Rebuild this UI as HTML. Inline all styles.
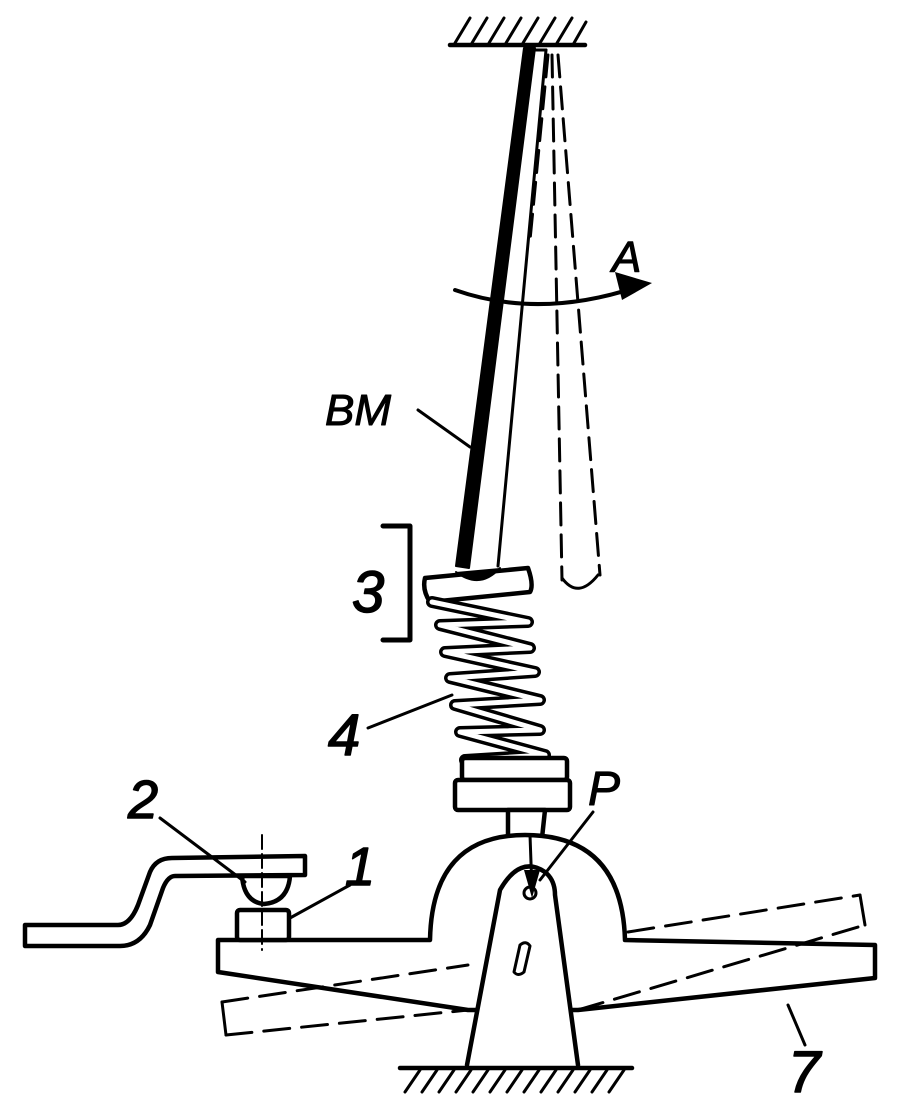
<!DOCTYPE html>
<html><head><meta charset="utf-8"><style>html,body{margin:0;padding:0;background:#fff}svg{display:block}text{font-family:"Liberation Sans",sans-serif;font-style:italic;fill:#000}</style></head><body>
<svg width="903" height="1110" viewBox="0 0 903 1110" xmlns="http://www.w3.org/2000/svg" fill="none" stroke="#000" stroke-width="4.5" stroke-linecap="round" stroke-linejoin="round">
<!-- ceiling -->
<line x1="450" y1="45" x2="585" y2="45"/>
<g stroke-width="3">
<line x1="455" y1="43" x2="470" y2="18"/><line x1="472" y1="43" x2="487" y2="18"/><line x1="489" y1="43" x2="504" y2="18"/><line x1="506" y1="43" x2="521" y2="18"/><line x1="523" y1="43" x2="538" y2="18"/><line x1="540" y1="43" x2="555" y2="18"/><line x1="557" y1="43" x2="572" y2="18"/><line x1="574" y1="43" x2="586" y2="22"/>
</g>
<!-- rod -->
<polygon points="524,48 535,48 469,568 456,566" fill="#000" stroke-width="2"/>
<line x1="546" y1="50" x2="498" y2="566" stroke-width="3"/>
<line x1="534" y1="50" x2="546" y2="50" stroke-width="3"/>
<!-- dashed rod -->
<g stroke-width="3" stroke-dasharray="22,10">
<line x1="552" y1="55" x2="562" y2="580"/><line x1="558" y1="55" x2="600" y2="575"/><line x1="548" y1="55" x2="530" y2="240"/>
</g>
<path d="M562 578 Q578 600 598 575" stroke-width="3"/>
<!-- arrow A -->
<path d="M455 290 Q540 320 640 286" stroke-width="4"/>
<polygon points="652,283 615,272 622,300" fill="#000" stroke="none"/>
<text x="612" y="272" font-size="44" stroke="#000" stroke-width="1">A</text>
<!-- BM -->
<text x="325" y="425" font-size="44" stroke="#000" stroke-width="1">BM</text>
<line x1="418" y1="410" x2="470" y2="447" stroke-width="3"/>
<!-- bracket 3 -->
<polyline points="383,526 410,526 410,640 383,640" stroke-width="5"/>
<text x="352" y="612" font-size="58" stroke="#000" stroke-width="1.5">3</text>
<!-- top plate -->
<path d="M425 578 L528 568 Q534 585 530 592 L430 602 Q422 590 425 578Z" fill="#fff"/>
<path d="M456 572 Q480 590 500 568" fill="#000" stroke-width="2"/>
<!-- spring -->
<path d="M432 602 L528 622 L440 625 L530 648 L445 652 L535 672 L450 678 L540 700 L455 705 L540 730 L460 732 L545 755 L465 760" stroke-width="12"/>
<path d="M432 602 L528 622 L440 625 L530 648 L445 652 L535 672 L450 678 L540 700 L455 705 L540 730 L460 732 L545 755 L465 760" stroke="#fff" stroke-width="5"/>
<text x="328" y="755" font-size="58" stroke="#000" stroke-width="1.5">4</text>
<line x1="368" y1="728" x2="452" y2="695" stroke-width="3"/>
<!-- bottom plate -->
<rect x="462" y="758" width="105" height="22" rx="3" fill="#fff"/>
<rect x="455" y="780" width="115" height="30" rx="3" fill="#fff"/>
<path d="M508 810 L545 810 L542 838 Q525 850 508 840Z" fill="#fff"/>
<!-- lever -->
<path d="M218 940 L430 940 Q432 835 525 835 Q622 835 625 940 L875 945 L875 978 L578 1010 L468 1010 L218 972Z" fill="#fff"/>
<!-- dashed lever -->
<g stroke-width="3" stroke-dasharray="26,12">
<line x1="222" y1="1002" x2="468" y2="965"/><line x1="226" y1="1035" x2="468" y2="1010"/><line x1="628" y1="932" x2="860" y2="895"/><line x1="578" y1="1010" x2="865" y2="925"/>
</g>
<line x1="222" y1="1002" x2="226" y2="1035" stroke-width="3"/>
<line x1="860" y1="895" x2="865" y2="925" stroke-width="3"/>
<!-- pillar -->
<path d="M467 1065 L500 890 Q520 855 545 872 Q555 880 555 895 L578 1065" fill="#fff"/>
<circle cx="530" cy="893" r="6" stroke-width="3"/>
<path d="M514 972 L520 945 Q526 940 530 946 L524 972 Q518 977 514 972Z" stroke-width="3"/>
<!-- P -->
<text x="588" y="805" font-size="48" stroke="#000" stroke-width="1">P</text>
<line x1="593" y1="812" x2="540" y2="880" stroke-width="3"/>
<line x1="530" y1="835" x2="532" y2="890" stroke-width="3"/>
<polygon points="532,898 524,870 540,870" fill="#000" stroke="none"/>
<!-- ground -->
<line x1="400" y1="1068" x2="632" y2="1068"/>
<g stroke-width="3">
<line x1="405" y1="1092" x2="420" y2="1070"/><line x1="422" y1="1092" x2="437" y2="1070"/><line x1="439" y1="1092" x2="454" y2="1070"/><line x1="456" y1="1092" x2="471" y2="1070"/><line x1="473" y1="1092" x2="488" y2="1070"/><line x1="490" y1="1092" x2="505" y2="1070"/><line x1="507" y1="1092" x2="522" y2="1070"/><line x1="524" y1="1092" x2="539" y2="1070"/><line x1="541" y1="1092" x2="556" y2="1070"/><line x1="558" y1="1092" x2="573" y2="1070"/><line x1="575" y1="1092" x2="590" y2="1070"/><line x1="592" y1="1092" x2="607" y2="1070"/><line x1="609" y1="1092" x2="624" y2="1070"/>
</g>
<!-- contact 1 -->
<rect x="237" y="910" width="52" height="30" rx="3" fill="#fff"/>
<text x="345" y="885" font-size="54" stroke="#000" stroke-width="1.5">1</text>
<line x1="350" y1="885" x2="290" y2="918" stroke-width="3"/>
<!-- arm 2 -->
<path d="M25 925 L118 925 Q130 925 138 905 L150 872 Q156 858 172 858 L305 856 L305 875 L175 876 Q168 876 163 888 L150 925 Q140 946 120 946 L25 946Z" fill="#fff"/>
<path d="M242 876 Q244 902 264 904 Q288 902 290 876Z" fill="#fff"/>
<text x="128" y="818" font-size="54" stroke="#000" stroke-width="1.5">2</text>
<line x1="160" y1="818" x2="245" y2="882" stroke-width="3"/>
<line x1="262" y1="835" x2="262" y2="950" stroke-width="2" stroke-dasharray="14,5"/>
<!-- 7 -->
<text x="788" y="1092" font-size="58" stroke="#000" stroke-width="1.5">7</text>
<line x1="805" y1="1045" x2="788" y2="1005" stroke-width="3"/>
</svg>
</body></html>
